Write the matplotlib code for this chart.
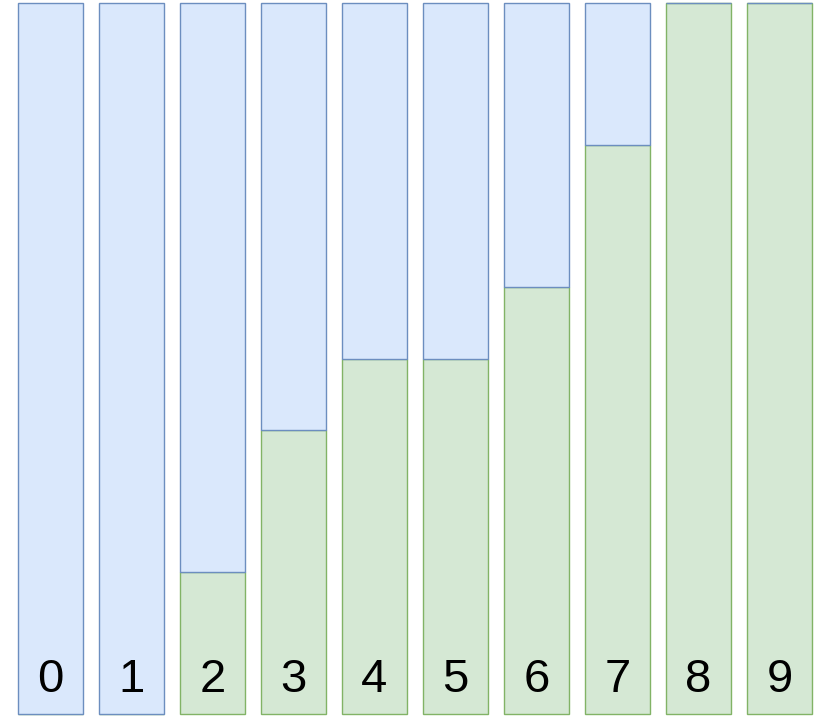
import matplotlib
matplotlib.use("Agg")
import matplotlib.pyplot as plt

# bar labels and the share of each bar that is green (bottom) vs blue (top)
labels = ["0", "1", "2", "3", "4", "5", "6", "7", "8", "9"]
green_share = [0.0, 0.0, 0.2, 0.4, 0.5, 0.5, 0.6, 0.8, 1.0, 1.0]
blue_share = [1.0 - g for g in green_share]

BLUE_FILL, BLUE_EDGE = "#dae8fc", "#6c8ebf"
GREEN_FILL, GREEN_EDGE = "#d5e8d4", "#82b366"

fig = plt.figure(figsize=(8.31, 7.2), dpi=100)
ax = fig.add_axes([0, 0, 1, 1])

x = list(range(len(labels)))
ax.bar(x, green_share, width=0.8, color=GREEN_FILL, edgecolor=GREEN_EDGE,
       linewidth=1.0, zorder=2)
ax.bar(x, blue_share, bottom=green_share, width=0.8, color=BLUE_FILL,
       edgecolor=BLUE_EDGE, linewidth=1.0, zorder=3)

for xi, lab in zip(x, labels):
    ax.text(xi, 0.031, lab, ha="center", va="baseline", fontsize=34,
            family="Liberation Sans", color="black", zorder=4)

ax.set_xlim(-0.623, 9.636)
ax.set_ylim(-0.0084, 1.0042)
ax.axis("off")

fig.savefig("out.png", dpi=100)
